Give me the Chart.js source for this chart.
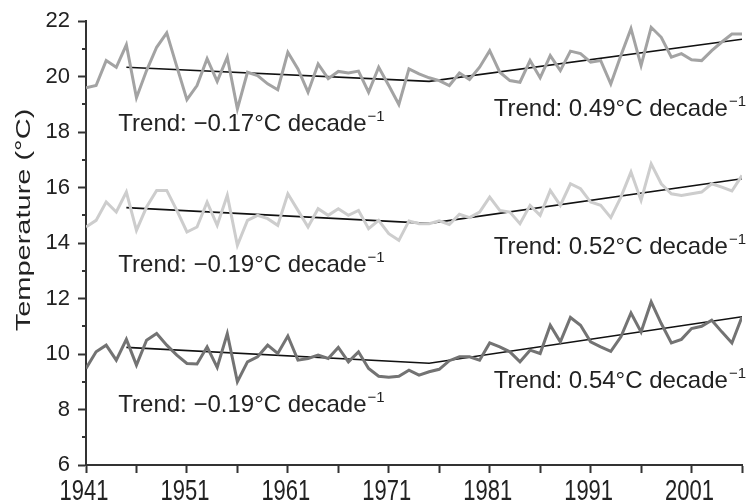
<!DOCTYPE html>
<html>
<head>
<meta charset="utf-8">
<script src="https://cdn.jsdelivr.net/npm/chart.js@4.4.1/dist/chart.umd.min.js"></script>
<style>
  html, body { margin: 0; padding: 0; background: #fff; }
  canvas { display: block; }
</style>
</head>
<body>
<canvas id="chart" width="747" height="501"></canvas>
<script>
// Annual mean temperatures, 1941–2006
const years = [
  1941, 1942, 1943, 1944, 1945, 1946, 1947, 1948, 1949, 1950,
  1951, 1952, 1953, 1954, 1955, 1956, 1957, 1958, 1959, 1960,
  1961, 1962, 1963, 1964, 1965, 1966, 1967, 1968, 1969, 1970,
  1971, 1972, 1973, 1974, 1975, 1976, 1977, 1978, 1979, 1980,
  1981, 1982, 1983, 1984, 1985, 1986, 1987, 1988, 1989, 1990,
  1991, 1992, 1993, 1994, 1995, 1996, 1997, 1998, 1999, 2000,
  2001, 2002, 2003, 2004, 2005, 2006
];

const upperSeries = [
  19.60, 19.68, 20.58, 20.34, 21.15, 19.24, 20.22, 21.06, 21.58, 20.36,
  19.17, 19.68, 20.65, 19.83, 20.70, 18.84, 20.16, 20.04, 19.74, 19.53,
  20.88, 20.28, 19.44, 20.46, 19.93, 20.19, 20.13, 20.20, 19.44, 20.34,
  19.68, 19.00, 20.28, 20.10, 19.96, 19.86, 19.68, 20.13, 19.90, 20.34,
  20.94, 20.16, 19.86, 19.80, 20.58, 19.96, 20.76, 20.22, 20.92, 20.83,
  20.52, 20.58, 19.74, 20.76, 21.73, 20.40, 21.78, 21.42, 20.70, 20.83,
  20.61, 20.58, 20.94, 21.25, 21.54, 21.54
];

const middleSeries = [
  14.58, 14.82, 15.48, 15.12, 15.84, 14.46, 15.30, 15.90, 15.90, 15.18,
  14.40, 14.58, 15.48, 14.64, 15.72, 13.92, 14.82, 15.00, 14.88, 14.64,
  15.78, 15.18, 14.58, 15.24, 15.00, 15.24, 15.00, 15.18, 14.52, 14.82,
  14.34, 14.10, 14.80, 14.70, 14.70, 14.80, 14.67, 15.04, 14.92, 15.12,
  15.66, 15.18, 15.12, 14.70, 15.36, 15.00, 15.90, 15.36, 16.14, 15.96,
  15.48, 15.36, 14.92, 15.66, 16.56, 15.54, 16.86, 16.14, 15.78, 15.72,
  15.78, 15.84, 16.14, 16.02, 15.88, 16.44
];

const lowerSeries = [
  9.48, 10.08, 10.32, 9.78, 10.53, 9.60, 10.50, 10.74, 10.32, 9.96,
  9.66, 9.64, 10.26, 9.52, 10.74, 9.00, 9.72, 9.90, 10.32, 10.02,
  10.65, 9.78, 9.84, 9.96, 9.84, 10.24, 9.72, 10.08, 9.48, 9.20,
  9.16, 9.20, 9.42, 9.24, 9.36, 9.45, 9.76, 9.90, 9.90, 9.78,
  10.40, 10.26, 10.08, 9.72, 10.14, 10.02, 11.04, 10.44, 11.32, 11.04,
  10.44, 10.26, 10.10, 10.62, 11.48, 10.80, 11.88, 11.10, 10.40, 10.53,
  10.92, 11.00, 11.22, 10.80, 10.40, 11.34
];

// Piecewise linear trends: rates in °C per decade
const trendYears = [1945, 1975, 2006];
const trendStart = [20.34, 15.28, 10.24];
const trendEarly = [-0.17, -0.19, -0.19];
const trendLate  = [0.49, 0.52, 0.54];

const xTickYears = [1941, 1946, 1951, 1956, 1961, 1966, 1971, 1976, 1981, 1986, 1991, 1996, 2001, 2006];
const xLabelYears = [1941, 1951, 1961, 1971, 1981, 1991, 2001];

const seriesColors = ['#a3a3a3', '#cdcdcd', '#737373'];
const seriesData = [upperSeries, middleSeries, lowerSeries];

function trendLine(i) {
  const v0 = trendStart[i];
  const v1 = v0 + trendEarly[i] * (trendYears[1] - trendYears[0]) / 10;
  const v2 = v1 + trendLate[i] * (trendYears[2] - trendYears[1]) / 10;
  return [
    { x: trendYears[0], y: v0 },
    { x: trendYears[1], y: v1 },
    { x: trendYears[2], y: v2 }
  ];
}

function fmtRate(r) {
  return (r < 0 ? '\u2212' : '') + Math.abs(r).toFixed(2);
}

// Where each trend caption sits (year, temperature of its baseline)
const captionSpots = [
  { series: 0, part: 'early', year: 1944.2, temp: 18.03 },
  { series: 0, part: 'late',  year: 1981.4, temp: 18.60 },
  { series: 1, part: 'early', year: 1944.2, temp: 12.96 },
  { series: 1, part: 'late',  year: 1981.4, temp: 13.62 },
  { series: 2, part: 'early', year: 1944.2, temp: 7.92 },
  { series: 2, part: 'late',  year: 1981.4, temp: 8.76 }
];

const datasets = [];
seriesData.forEach((vals, i) => {
  datasets.push({
    data: years.map((yr, k) => ({ x: yr, y: vals[k] })),
    borderColor: seriesColors[i],
    borderWidth: 3,
    pointRadius: 0,
    tension: 0,
    fill: false
  });
});
seriesData.forEach((_, i) => {
  datasets.push({
    data: trendLine(i),
    borderColor: '#111',
    borderWidth: 1.6,
    pointRadius: 0,
    tension: 0,
    fill: false
  });
});

const axisColor = '#333';
const textColor = '#222';
const baseFont = '"Liberation Sans", Arial, Helvetica, sans-serif';

const decorations = {
  id: 'decorations',
  afterDraw(chart) {
    const { ctx, scales: { x, y } } = chart;
    ctx.save();

    // short minor ticks on odd degrees
    ctx.strokeStyle = axisColor;
    ctx.lineWidth = 2;
    for (let v = 7; v <= 21; v += 2) {
      const py = Math.round(y.getPixelForValue(v));
      ctx.beginPath();
      ctx.moveTo(x.left - 4, py);
      ctx.lineTo(x.left, py);
      ctx.stroke();
    }

    // trend captions
    ctx.fillStyle = textColor;
    ctx.textBaseline = 'alphabetic';
    ctx.textAlign = 'left';
    captionSpots.forEach(c => {
      const rate = c.part === 'early' ? trendEarly[c.series] : trendLate[c.series];
      const px = x.getPixelForValue(c.year);
      const py = y.getPixelForValue(c.temp);
      const main = 'Trend: ' + fmtRate(rate) + '\u00B0C decade';
      ctx.font = '24px ' + baseFont;
      ctx.fillText(main, px, py);
      const w = ctx.measureText(main).width;
      ctx.font = '15px ' + baseFont;
      ctx.fillText('\u22121', px + w + 1, py - 10);
    });

    // year labels under the axis, set in tall lettering
    ctx.font = '22px ' + baseFont;
    ctx.textAlign = 'center';
    xLabelYears.forEach(yr => {
      ctx.save();
      ctx.translate(x.getPixelForValue(yr) - 2, 500);
      ctx.scale(1, 1.3);
      ctx.fillText(String(yr), 0, 0);
      ctx.restore();
    });

    // y-axis title
    ctx.font = '21px ' + baseFont;
    ctx.textAlign = 'center';
    ctx.translate(30, 220);
    ctx.rotate(-Math.PI / 2);
    ctx.scale(1.38, 1);
    ctx.fillText('Temperature (\u00B0C)', 0, 0);

    ctx.restore();
  }
};

new Chart(document.getElementById('chart'), {
  type: 'line',
  data: { datasets },
  options: {
    responsive: false,
    animation: false,
    events: [],
    layout: { padding: { top: 21, right: 5, left: 0, bottom: 0 } },
    plugins: { legend: { display: false }, tooltip: { enabled: false } },
    scales: {
      x: {
        type: 'linear',
        min: 1941,
        max: 2006,
        afterBuildTicks: s => { s.ticks = xTickYears.map(v => ({ value: v })); },
        afterFit: s => { s.height = 36; },
        border: { display: true, color: axisColor, width: 2 },
        grid: { drawOnChartArea: false, drawTicks: true, tickLength: 8, tickColor: axisColor, tickWidth: 2 },
        ticks: {
          autoSkip: false,
          maxRotation: 0,
          padding: 3,
          color: textColor,
          font: { family: baseFont, size: 22 },
          callback: () => ''
        }
      },
      y: {
        min: 6,
        max: 22,
        afterFit: s => { s.width = 86; },
        border: { display: true, color: axisColor, width: 2 },
        grid: {
          drawOnChartArea: false,
          drawTicks: true,
          tickLength: 8,
          tickWidth: 2,
          tickColor: c => (c.tick && c.tick.value % 2 !== 0 ? 'rgba(0,0,0,0)' : axisColor)
        },
        ticks: {
          stepSize: 1,
          autoSkip: false,
          padding: 8,
          color: textColor,
          font: { family: baseFont, size: 22 },
          callback: v => (v % 2 === 0 ? String(v) : '')
        }
      }
    }
  },
  plugins: [decorations]
});
</script>
</body>
</html>
